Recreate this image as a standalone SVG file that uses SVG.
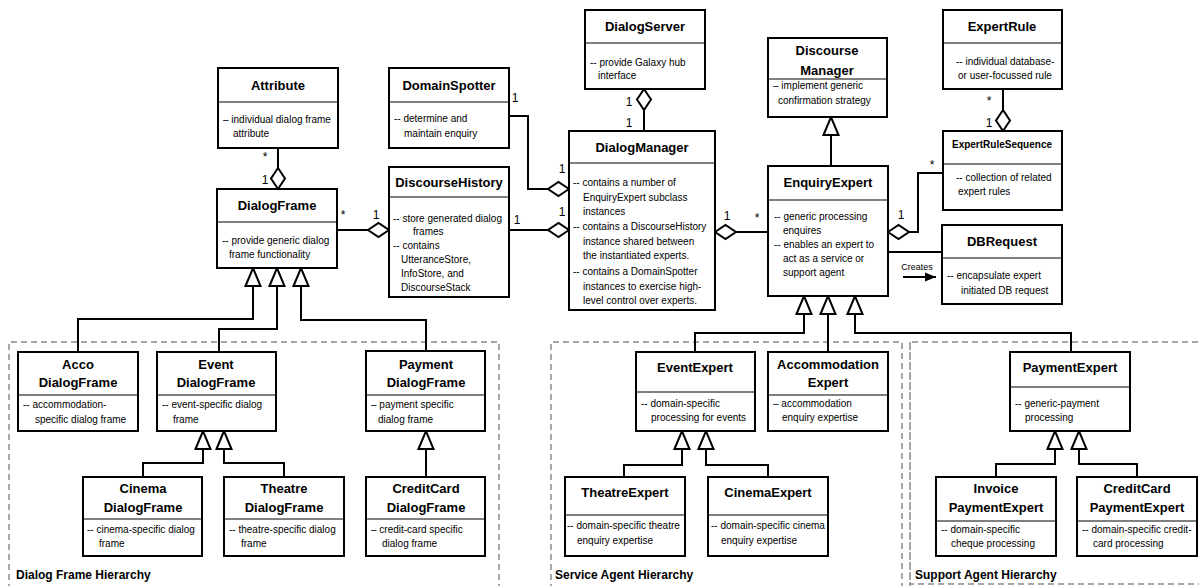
<svg xmlns="http://www.w3.org/2000/svg" width="1199" height="586" viewBox="0 0 1199 586">
<style>
.box{fill:#fff;stroke:#000;stroke-width:2}
.dv{stroke:#000;stroke-width:1}
.t{font-family:"Liberation Sans",Arial,sans-serif;font-weight:bold;font-size:13px;text-anchor:middle;fill:#000}
.ts{font-family:"Liberation Sans",Arial,sans-serif;font-weight:bold;font-size:10px;text-anchor:middle;fill:#000}
.b{font-family:"Liberation Sans",Arial,sans-serif;font-size:10px;fill:#000}
.c{fill:none;stroke:#000;stroke-width:2}
.agg{marker-start:url(#dia)}
.gen{marker-end:url(#tri)}
.m{font-family:"Liberation Sans",Arial,sans-serif;font-size:12px;text-anchor:middle;fill:#000}
.cr{font-family:"Liberation Sans",Arial,sans-serif;font-size:9px;text-anchor:middle;fill:#000}
.rg{fill:none;stroke:#8a8a8a;stroke-width:1.5;stroke-dasharray:6 4}
.rl{font-family:"Liberation Sans",Arial,sans-serif;font-weight:bold;font-size:12px;fill:#000}
</style>
<defs>
<marker id="dia" markerUnits="userSpaceOnUse" markerWidth="24" markerHeight="16" refX="0" refY="7" orient="auto" overflow="visible">
<path d="M0,7 L10.5,0 L21,7 L10.5,14 Z" fill="#fff" stroke="#000" stroke-width="2"/>
</marker>
<marker id="tri" markerUnits="userSpaceOnUse" markerWidth="20" markerHeight="18" refX="18" refY="7.5" orient="auto" overflow="visible">
<path d="M0,0 L18,7.5 L0,15 Z" fill="#fff" stroke="#000" stroke-width="2"/>
</marker>
<marker id="arr" markerUnits="userSpaceOnUse" markerWidth="12" markerHeight="10" refX="11" refY="4.5" orient="auto" overflow="visible">
<path d="M0,0 L11,4.5 L0,9 Z" fill="#000"/>
</marker>
</defs>

<g id="regions">
<path class="rg" d="M9,600 V342 H499 V600"/>
<path class="rg" d="M551,600 V342 H902 V600"/>
<path class="rg" d="M910,600 V342 H1205 M910,342 V584 H1205"/>
<text class="rl" x="16" y="579">Dialog Frame Hierarchy</text>
<text class="rl" x="555" y="579">Service Agent Hierarchy</text>
<text class="rl" x="915" y="579">Support Agent Hierarchy</text>
</g>

<g id="connectors">
<path class="c agg" d="M278,189 V148"/>
<path class="c agg" d="M389,230 H337"/>
<path class="c agg" d="M569,230 H509"/>
<path class="c agg" d="M569,189 H528 V116 H509"/>
<path class="c agg" d="M644,89 V131"/>
<path class="c agg" d="M715,232 H768"/>
<path class="c agg" d="M1003,131 V89"/>
<path class="c agg" d="M888,232 H918 V173 H943"/>
<path class="c" d="M888,252 H942"/>
<path class="c" d="M903,277 H936" marker-end="url(#arr)"/>
<path class="c gen" d="M831,166 V117"/>
<path class="c gen" d="M78,352 V319 H253 V268"/>
<path class="c gen" d="M219,352 V329 H277 V268"/>
<path class="c gen" d="M426,351 V320 H301 V268"/>
<path class="c gen" d="M143,477 V463 H203 V431"/>
<path class="c gen" d="M284,477 V463 H224 V431"/>
<path class="c gen" d="M426,477 V431"/>
<path class="c gen" d="M695,352 V333 H804 V296"/>
<path class="c gen" d="M828,352 V296"/>
<path class="c gen" d="M1071,352 V333 H855 V296"/>
<path class="c gen" d="M624,477 V465 H682 V431"/>
<path class="c gen" d="M768,477 V465 H706 V431"/>
<path class="c gen" d="M996,477 V464 H1055 V431"/>
<path class="c gen" d="M1137,477 V464 H1079 V431"/>
<text class="m" x="265" y="161">*</text>
<text class="m" x="265" y="184">1</text>
<text class="m" x="343" y="219">*</text>
<text class="m" x="376" y="219">1</text>
<text class="m" x="517" y="224">1</text>
<text class="m" x="562" y="216">1</text>
<text class="m" x="515" y="102">1</text>
<text class="m" x="562" y="173">1</text>
<text class="m" x="629" y="106">1</text>
<text class="m" x="629" y="127">1</text>
<text class="m" x="727" y="220">1</text>
<text class="m" x="757" y="222">*</text>
<text class="m" x="989" y="105">*</text>
<text class="m" x="989" y="127">1</text>
<text class="m" x="932" y="169">*</text>
<text class="m" x="901" y="219">1</text>
<text class="cr" x="917" y="270">Creates</text>
</g>

<g id="Attribute">
<rect class="box" x="218" y="68" width="120" height="80"/>
<line class="dv" x1="218" y1="102" x2="338" y2="102"/>
<text class="t" x="278" y="90">Attribute</text>
<text class="b" x="223" y="123">– individual dialog frame</text>
<text class="b" x="233" y="137">attribute</text>
</g>

<g id="DialogFrame">
<rect class="box" x="217" y="189" width="120" height="79"/>
<line class="dv" x1="217" y1="222" x2="337" y2="222"/>
<text class="t" x="277" y="210">DialogFrame</text>
<text class="b" x="222" y="244">-- provide generic dialog</text>
<text class="b" x="229" y="258">frame functionality</text>
</g>

<g id="DomainSpotter">
<rect class="box" x="389" y="68" width="120" height="80"/>
<line class="dv" x1="389" y1="102" x2="509" y2="102"/>
<text class="t" x="449" y="90">DomainSpotter</text>
<text class="b" x="394" y="122">-- determine and</text>
<text class="b" x="404" y="137">maintain enquiry</text>
</g>

<g id="DiscourseHistory">
<rect class="box" x="389" y="167" width="120" height="130"/>
<line class="dv" x1="389" y1="197" x2="509" y2="197"/>
<text class="t" x="449" y="187">DiscourseHistory</text>
<text class="b" x="393" y="222">-- store generated dialog</text>
<text class="b" x="413" y="235">frames</text>
<text class="b" x="393" y="249">-- contains</text>
<text class="b" x="401" y="263">UtteranceStore,</text>
<text class="b" x="401" y="277">InfoStore, and</text>
<text class="b" x="401" y="291">DiscourseStack</text>
</g>

<g id="DialogServer">
<rect class="box" x="585" y="10" width="120" height="79"/>
<line class="dv" x1="585" y1="43" x2="705" y2="43"/>
<text class="t" x="645" y="31">DialogServer</text>
<text class="b" x="590" y="66">-- provide Galaxy hub</text>
<text class="b" x="598" y="79">interface</text>
</g>

<g id="DialogManager">
<rect class="box" x="569" y="131" width="146" height="179"/>
<line class="dv" x1="569" y1="163" x2="715" y2="163"/>
<text class="t" x="642" y="152">DialogManager</text>
<text class="b" x="573" y="186">-- contains a number of</text>
<text class="b" x="583" y="200.5">EnquiryExpert subclass</text>
<text class="b" x="583" y="215">instances</text>
<text class="b" x="573" y="230">-- contains a DiscourseHistory</text>
<text class="b" x="583" y="244.5">instance shared between</text>
<text class="b" x="583" y="259">the instantiated experts.</text>
<text class="b" x="573" y="275">-- contains a DomainSpotter</text>
<text class="b" x="583" y="290">instances to exercise high-</text>
<text class="b" x="583" y="304">level control over experts.</text>
</g>

<g id="DiscourseManager">
<rect class="box" x="768" y="38" width="119" height="79"/>
<line class="dv" x1="768" y1="79" x2="887" y2="79"/>
<text class="t" x="827" y="55">Discourse</text>
<text class="t" x="827" y="75">Manager</text>
<text class="b" x="773" y="89">– implement generic</text>
<text class="b" x="778" y="104">confirmation strategy</text>
</g>

<g id="EnquiryExpert">
<rect class="box" x="768" y="166" width="120" height="130"/>
<line class="dv" x1="768" y1="200" x2="888" y2="200"/>
<text class="t" x="828" y="187">EnquiryExpert</text>
<text class="b" x="774" y="220">-- generic processing</text>
<text class="b" x="783" y="234">enquires</text>
<text class="b" x="774" y="248">-- enables an expert to</text>
<text class="b" x="783" y="262">act as a service or</text>
<text class="b" x="783" y="276">support agent</text>
</g>

<g id="ExpertRule">
<rect class="box" x="943" y="10" width="119" height="79"/>
<line class="dv" x1="943" y1="43" x2="1062" y2="43"/>
<text class="t" x="1002" y="31">ExpertRule</text>
<text class="b" x="956" y="65">-- individual database-</text>
<text class="b" x="958" y="79">or user-focussed rule</text>
</g>

<g id="ExpertRuleSequence">
<rect class="box" x="943" y="131" width="119" height="79"/>
<line class="dv" x1="943" y1="164" x2="1062" y2="164"/>
<text class="ts" x="1002" y="148">ExpertRuleSequence</text>
<text class="b" x="956" y="181">-- collection of related</text>
<text class="b" x="958" y="195">expert rules</text>
</g>

<g id="DBRequest">
<rect class="box" x="942" y="225" width="120" height="79"/>
<line class="dv" x1="942" y1="258" x2="1062" y2="258"/>
<text class="t" x="1002" y="246">DBRequest</text>
<text class="b" x="947" y="279">-- encapsulate expert</text>
<text class="b" x="961" y="294">initiated DB request</text>
</g>

<g id="AccoDialogFrame">
<rect class="box" x="18" y="352" width="120" height="79"/>
<line class="dv" x1="18" y1="395" x2="138" y2="395"/>
<text class="t" x="78" y="369">Acco</text>
<text class="t" x="78" y="387">DialogFrame</text>
<text class="b" x="23" y="408">-- accommodation-</text>
<text class="b" x="35" y="423">specific dialog frame</text>
</g>

<g id="EventDialogFrame">
<rect class="box" x="157" y="352" width="119" height="79"/>
<line class="dv" x1="157" y1="395" x2="276" y2="395"/>
<text class="t" x="216" y="369">Event</text>
<text class="t" x="216" y="387">DialogFrame</text>
<text class="b" x="162" y="408">-- event-specific dialog</text>
<text class="b" x="173" y="423">frame</text>
</g>

<g id="PaymentDialogFrame">
<rect class="box" x="366" y="351" width="119" height="80"/>
<line class="dv" x1="366" y1="395" x2="485" y2="395"/>
<text class="t" x="426" y="369">Payment</text>
<text class="t" x="426" y="387">DialogFrame</text>
<text class="b" x="371" y="408">– payment specific</text>
<text class="b" x="378" y="423">dialog frame</text>
</g>

<g id="CinemaDialogFrame">
<rect class="box" x="83" y="477" width="119" height="79"/>
<line class="dv" x1="83" y1="519" x2="202" y2="519"/>
<text class="t" x="143" y="493">Cinema</text>
<text class="t" x="143" y="512">DialogFrame</text>
<text class="b" x="87" y="533">-- cinema-specific dialog</text>
<text class="b" x="99" y="547">frame</text>
</g>

<g id="TheatreDialogFrame">
<rect class="box" x="224" y="477" width="120" height="79"/>
<line class="dv" x1="224" y1="519" x2="344" y2="519"/>
<text class="t" x="284" y="493">Theatre</text>
<text class="t" x="284" y="512">DialogFrame</text>
<text class="b" x="229" y="533">-- theatre-specific dialog</text>
<text class="b" x="241" y="547">frame</text>
</g>

<g id="CreditCardDialogFrame">
<rect class="box" x="366" y="477" width="119" height="79"/>
<line class="dv" x1="366" y1="519" x2="485" y2="519"/>
<text class="t" x="426" y="493">CreditCard</text>
<text class="t" x="426" y="512">DialogFrame</text>
<text class="b" x="371" y="533">– credit-card specific</text>
<text class="b" x="382" y="547">dialog frame</text>
</g>

<g id="EventExpert">
<rect class="box" x="636" y="352" width="119" height="79"/>
<line class="dv" x1="636" y1="392" x2="755" y2="392"/>
<text class="t" x="695" y="372">EventExpert</text>
<text class="b" x="641" y="407">-- domain-specific</text>
<text class="b" x="651" y="421">processing for events</text>
</g>

<g id="AccommodationExpert">
<rect class="box" x="768" y="352" width="120" height="79"/>
<line class="dv" x1="768" y1="395" x2="888" y2="395"/>
<text class="t" x="828" y="369">Accommodation</text>
<text class="t" x="828" y="387">Expert</text>
<text class="b" x="773" y="407">– accommodation</text>
<text class="b" x="782" y="421">enquiry expertise</text>
</g>

<g id="PaymentExpert">
<rect class="box" x="1010" y="352" width="120" height="79"/>
<line class="dv" x1="1010" y1="387" x2="1130" y2="387"/>
<text class="t" x="1070" y="372">PaymentExpert</text>
<text class="b" x="1015" y="407">-- generic-payment</text>
<text class="b" x="1025" y="421">processing</text>
</g>

<g id="TheatreExpert">
<rect class="box" x="565" y="477" width="120" height="79"/>
<line class="dv" x1="565" y1="515" x2="685" y2="515"/>
<text class="t" x="625" y="497">TheatreExpert</text>
<text class="b" x="567" y="529">-- domain-specific theatre</text>
<text class="b" x="577" y="544">enquiry expertise</text>
</g>

<g id="CinemaExpert">
<rect class="box" x="708" y="477" width="120" height="79"/>
<line class="dv" x1="708" y1="515" x2="828" y2="515"/>
<text class="t" x="768" y="497">CinemaExpert</text>
<text class="b" x="711" y="529">-- domain-specific cinema</text>
<text class="b" x="721" y="544">enquiry expertise</text>
</g>

<g id="InvoicePaymentExpert">
<rect class="box" x="936" y="477" width="120" height="79"/>
<line class="dv" x1="936" y1="521" x2="1056" y2="521"/>
<text class="t" x="996" y="493">Invoice</text>
<text class="t" x="996" y="512">PaymentExpert</text>
<text class="b" x="941" y="533">-- domain-specific</text>
<text class="b" x="951" y="547">cheque processing</text>
</g>

<g id="CreditCardPaymentExpert">
<rect class="box" x="1077" y="477" width="120" height="79"/>
<line class="dv" x1="1077" y1="521" x2="1197" y2="521"/>
<text class="t" x="1137" y="493">CreditCard</text>
<text class="t" x="1137" y="512">PaymentExpert</text>
<text class="b" x="1082" y="533">-- domain-specific credit-</text>
<text class="b" x="1093" y="547">card processing</text>
</g>
</svg>
